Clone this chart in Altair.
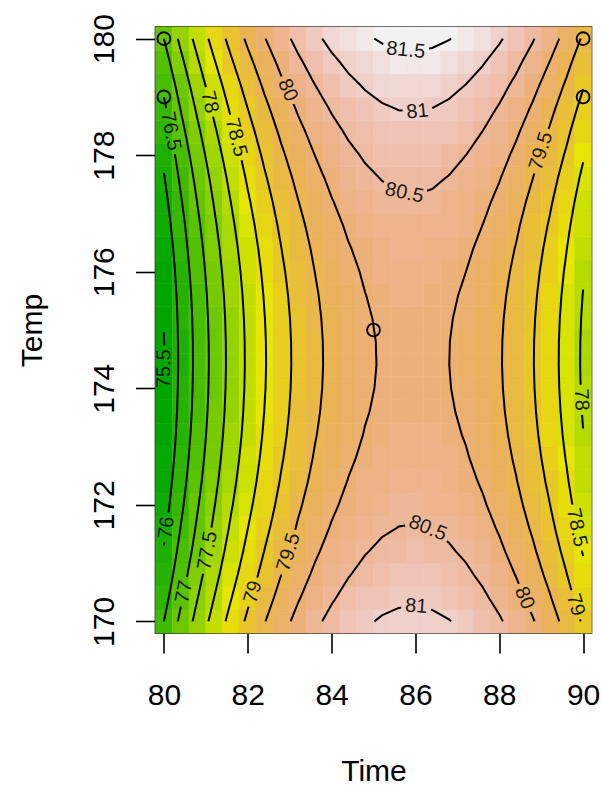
import colorsys
import math

import numpy as np
import pandas as pd
import altair as alt

# ---------------------------------------------------------------- data
# design points of the experiment
point_time = [80, 80, 85, 90, 90]
point_temp = [180, 179, 175, 180, 179]

# second-order response surface, coded units x1=(Time-85)/5, x2=(Temp-175)/5
coef_intercept = 80.0
coef_time = 1.22
coef_temp = 0.25
coef_time_sq = -3.28
coef_temp_sq = 1.25
coef_time_temp = 0.0

# evaluation grid
time_values = np.linspace(80, 90, 26)
temp_values = np.linspace(170, 180, 26)

contour_levels = [75.5, 76.0, 76.5, 77.0, 77.5, 78.0, 78.5,
                  79.0, 79.5, 80.0, 80.5, 81.0, 81.5]

# contour labels: level and approximate spot on the line (Time, Temp)
label_levels = [76.5, 78.0, 78.5, 80.0, 75.5, 76.0, 77.0, 77.5, 79.0, 79.5,
                81.5, 81.0, 80.5, 79.5, 80.5, 81.0, 80.0, 79.0, 78.5, 78.0]
label_time = [80.07, 81.02, 81.70, 82.90, 80.10, 80.14, 80.53, 81.14, 82.13, 83.09,
              85.77, 86.05, 85.77, 89.00, 86.20, 86.00, 88.60, 89.90, 89.80, 89.90]
label_temp = [178.4, 178.9, 178.3, 179.1, 173.95, 171.6, 170.5, 171.2, 170.5, 171.16,
              179.8, 178.75, 177.5, 178.07, 171.4, 170.2, 170.4, 170.3, 171.6, 173.8]

# ---------------------------------------------------------------- layout
W, H = 436, 606
X_DOM = [79.8, 90.2]
Y_DOM = [169.8, 180.2]
SX = W / (X_DOM[1] - X_DOM[0])
SY = H / (Y_DOM[1] - Y_DOM[0])
FONT = "Liberation Sans"
LABEL_SIZE = 20

# ---------------------------------------------------------------- surface
TT, PP = np.meshgrid(time_values, temp_values)
x1 = (TT - 85) / 5
x2 = (PP - 175) / 5
Z = (coef_intercept + coef_time * x1 + coef_temp * x2 + coef_time_sq * x1 ** 2
     + coef_temp_sq * x2 ** 2 + coef_time_temp * x1 * x2)

half = (time_values[1] - time_values[0]) / 2
cells = pd.DataFrame({
    "t0": (TT - half).ravel(), "t1": (TT + half).ravel(),
    "p0": (PP - half).ravel(), "p1": (PP + half).ravel(),
    "z": Z.ravel(),
})


# terrain palette with 50 steps
def terrain(n):
    k = n // 2
    cols = []
    h1 = np.linspace(4 / 12, 2 / 12, k)
    v1 = np.linspace(0.65, 0.9, k)
    for h, v in zip(h1, v1):
        cols.append(colorsys.hsv_to_rgb(h, 1.0, v))
    h2 = np.linspace(2 / 12, 0, n - k + 1)[1:]
    s2 = np.linspace(1, 0, n - k + 1)[1:]
    v2 = np.linspace(0.9, 0.95, n - k + 1)[1:]
    for h, s, v in zip(h2, s2, v2):
        cols.append(colorsys.hsv_to_rgb(h, s, v))
    return ["#%02x%02x%02x" % tuple(int(round(c * 255)) for c in rgb) for rgb in cols]


palette = terrain(50)


# ---------------------------------------------------------------- contours
def trace(level):
    nx, ny = len(time_values), len(temp_values)
    above = Z >= level

    def pos(key):
        kind, i, j = key
        if kind == "h":
            za, zb = Z[j, i], Z[j, i + 1]
            f = (level - za) / (zb - za)
            return (time_values[i] + f * (time_values[i + 1] - time_values[i]), temp_values[j])
        za, zb = Z[j, i], Z[j + 1, i]
        f = (level - za) / (zb - za)
        return (time_values[i], temp_values[j] + f * (temp_values[j + 1] - temp_values[j]))

    adj = {}

    def link(a, b):
        adj.setdefault(a, []).append(b)
        adj.setdefault(b, []).append(a)

    for j in range(ny - 1):
        for i in range(nx - 1):
            corners = [(i, j), (i + 1, j), (i + 1, j + 1), (i, j + 1)]
            keys = [("h", i, j), ("v", i + 1, j), ("h", i, j + 1), ("v", i, j)]
            hit = []
            for e in range(4):
                a, b = corners[e], corners[(e + 1) % 4]
                if above[a[1], a[0]] != above[b[1], b[0]]:
                    hit.append(keys[e])
            if len(hit) == 2:
                link(hit[0], hit[1])
            elif len(hit) == 4:
                centre = Z[j:j + 2, i:i + 2].mean() >= level
                if centre == above[j, i]:
                    link(keys[0], keys[1]); link(keys[2], keys[3])
                else:
                    link(keys[0], keys[3]); link(keys[1], keys[2])

    seen = set()
    chains = []
    starts = [k for k, v in adj.items() if len(v) == 1] + list(adj.keys())
    for s in starts:
        if s in seen:
            continue
        chain = [s]
        seen.add(s)
        cur = s
        while True:
            nxt = [n for n in adj[cur] if n not in seen]
            if not nxt:
                break
            cur = nxt[0]
            seen.add(cur)
            chain.append(cur)
        if len(adj[s]) == 2 and s in adj[chain[-1]] and len(chain) > 2:
            chain.append(s)
        chains.append(np.array([pos(k) for k in chain]))
    return chains


def to_px(pts):
    return np.column_stack(((pts[:, 0] - X_DOM[0]) * SX, (Y_DOM[1] - pts[:, 1]) * SY))


def arclen(pts):
    px = to_px(pts)
    d = np.hypot(np.diff(px[:, 0]), np.diff(px[:, 1]))
    return np.concatenate([[0], np.cumsum(d)])


def point_at(pts, s_cum, s):
    k = int(np.clip(np.searchsorted(s_cum, s) - 1, 0, len(pts) - 2))
    seg = s_cum[k + 1] - s_cum[k]
    f = 0 if seg == 0 else (s - s_cum[k]) / seg
    return pts[k] + f * (pts[k + 1] - pts[k])


def text_width(txt):
    return sum(0.278 if c == "." else 0.556 for c in txt) * LABEL_SIZE


lines = []
for lev in contour_levels:
    for c in trace(lev):
        if len(c) >= 2:
            lines.append([lev, c])

labels = []
for lev, lt, lp in zip(label_levels, label_time, label_temp):
    target = np.array([(lt - X_DOM[0]) * SX, (Y_DOM[1] - lp) * SY])
    best = None
    for idx, (lv, pts) in enumerate(lines):
        if abs(lv - lev) > 1e-9:
            continue
        px = to_px(pts)
        s_cum = arclen(pts)
        for k in range(len(px) - 1):
            a, b = px[k], px[k + 1]
            ab = b - a
            L2 = ab @ ab
            f = 0 if L2 == 0 else np.clip((target - a) @ ab / L2, 0, 1)
            q = a + f * ab
            d = np.hypot(*(q - target))
            if best is None or d < best[0]:
                best = (d, idx, s_cum[k] + f * (s_cum[k + 1] - s_cum[k]))
    if best is None:
        continue
    _, idx, s0 = best
    lv, pts = lines[idx]
    s_cum = arclen(pts)
    txt = "%g" % lev
    hw = text_width(txt) / 2
    s0 = float(np.clip(s0, hw, s_cum[-1] - hw))
    pa = point_at(pts, s_cum, s0 - hw)
    pb = point_at(pts, s_cum, s0 + hw)
    pc = point_at(pts, s_cum, s0)
    dx = (pb[0] - pa[0]) * SX
    dy = -(pb[1] - pa[1]) * SY
    ang = math.degrees(math.atan2(dy, dx))
    if ang > 90:
        ang -= 180
    elif ang <= -90:
        ang += 180
    labels.append({"Time": pc[0], "Temp": pc[1], "text": txt, "angle": ang % 360})
    # open a gap in the line around the label
    gap = hw + 4
    sa, sb = s0 - gap, s0 + gap
    pieces = []
    if sa > 0:
        keep = pts[s_cum < sa]
        pieces.append(np.vstack([keep, point_at(pts, s_cum, sa)]))
    if sb < s_cum[-1]:
        keep = pts[s_cum > sb]
        pieces.append(np.vstack([point_at(pts, s_cum, sb), keep]))
    lines.pop(idx)
    for p in pieces:
        if len(p) >= 2:
            lines.append([lv, p])

rows = []
for sid, (lv, pts) in enumerate(lines):
    for o, (t, p) in enumerate(pts):
        rows.append({"Time": t, "Temp": p, "seg": sid, "ord": o})
line_df = pd.DataFrame(rows)
label_df = pd.DataFrame(labels)
point_df = pd.DataFrame({"Time": point_time, "Temp": point_temp})

# ---------------------------------------------------------------- chart
x_scale = alt.Scale(domain=X_DOM, nice=False, zero=False)
y_scale = alt.Scale(domain=Y_DOM, nice=False, zero=False)
color_scale = alt.Scale(type="quantize", domain=[float(Z.min()), float(Z.max())],
                        nice=False, range=palette)

x_axis = alt.Axis(
    values=[80, 82, 84, 86, 88, 90], format="d", title="Time", grid=False, domain=False,
    tickSize=20, tickWidth=1.6, tickColor="black",
    labelFont=FONT, labelFontSize=30, labelColor="black", labelPadding=27,
    labelFlush=False, labelOverlap=False,
    titleFont=FONT, titleFontSize=30, titleFontWeight="normal", titleColor="black",
    titleX=W / 2, titleY=147, titleBaseline="alphabetic", titleAlign="center",
)
y_axis = alt.Axis(
    values=[170, 172, 174, 176, 178, 180], format="d", title="Temp", grid=False, domain=False,
    tickSize=20, tickWidth=1.6, tickColor="black",
    labelFont=FONT, labelFontSize=30, labelColor="black", labelPadding=22,
    labelAngle=270, labelAlign="center", labelBaseline="alphabetic",
    labelFlush=False, labelOverlap=False,
    titleFont=FONT, titleFontSize=30, titleFontWeight="normal", titleColor="black",
    titleAngle=270, titleX=-114, titleY=H / 2, titleBaseline="alphabetic", titleAlign="center",
)

heat = alt.Chart(cells).mark_rect(strokeWidth=0.6).encode(
    x=alt.X("t0:Q", scale=x_scale, axis=x_axis),
    x2="t1",
    y=alt.Y("p0:Q", scale=y_scale, axis=y_axis),
    y2="p1",
    color=alt.Color("z:Q", scale=color_scale, legend=None),
    stroke=alt.Stroke("z:Q", scale=color_scale, legend=None),
)

contours = alt.Chart(line_df).mark_line(color="black", strokeWidth=2.0).encode(
    x=alt.X("Time:Q", scale=x_scale, axis=x_axis),
    y=alt.Y("Temp:Q", scale=y_scale, axis=y_axis),
    detail="seg:N",
    order="ord:Q",
)

text = alt.Chart(label_df).mark_text(
    font=FONT, fontSize=LABEL_SIZE, color="#1a1a1a", align="center", baseline="middle"
).encode(
    x=alt.X("Time:Q", scale=x_scale, axis=x_axis),
    y=alt.Y("Temp:Q", scale=y_scale, axis=y_axis),
    text="text:N",
    angle=alt.Angle("angle:Q", scale=None),
)

points = alt.Chart(point_df).mark_point(
    shape="circle", filled=False, size=165, color="black", strokeWidth=1.9, opacity=1
).encode(
    x=alt.X("Time:Q", scale=x_scale, axis=x_axis),
    y=alt.Y("Temp:Q", scale=y_scale, axis=y_axis),
)

chart = alt.layer(heat, contours, text, points).properties(
    width=W, height=H,
    autosize=alt.AutoSizeParams(type="none"),
    padding={"left": 155.5, "top": 27, "right": 10.5, "bottom": 152},
    background="white",
).configure_view(stroke="black", strokeWidth=1.6)

chart.save("out.html", embed_options={"renderer": "svg", "actions": False})
